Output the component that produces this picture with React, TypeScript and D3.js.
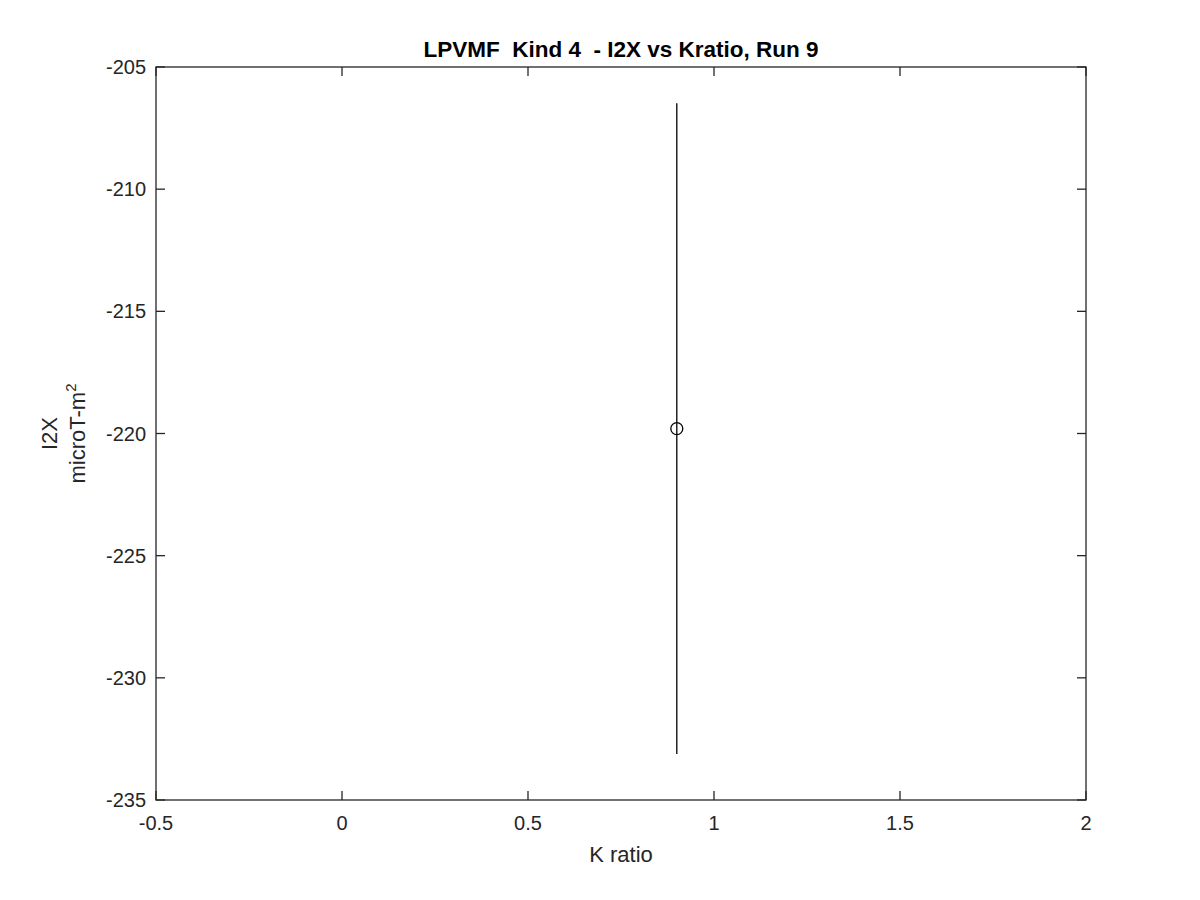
import React from "react";
import * as d3 from "d3";

const xValues = [0.9];
const yValues = [-219.8];
const errValues = [13.32];
const xTicks = [-0.5, 0, 0.5, 1, 1.5, 2];
const yTicks = [-235, -230, -225, -220, -215, -210, -205];
const title = "LPVMF  Kind 4  - I2X vs Kratio, Run 9";

export default function App() {
  const W = 1200, H = 900;
  const left = 156, right = 1086, top = 67, bottom = 800;
  const x = d3.scaleLinear().domain([-0.5, 2]).range([left, right]);
  const y = d3.scaleLinear().domain([-235, -205]).range([bottom, top]);
  const axisColor = "#262626";
  const font = "'Liberation Sans', Arial, sans-serif";
  const tl = 9;
  return (
    <svg width={W} height={H} style={{ position: "absolute", left: 0, top: 0, background: "#fff" }} fontFamily={font}>
      <rect x={0} y={0} width={W} height={H} fill="#fff" />
      {xValues.map((xv, i) => (
        <g key={i}>
          <line x1={x(xv)} x2={x(xv)} y1={y(yValues[i] + errValues[i])} y2={y(yValues[i] - errValues[i])} stroke="#000" strokeWidth={1.3} />
          <circle cx={x(xv)} cy={y(yValues[i])} r={6} fill="none" stroke="#000" strokeWidth={1.3} />
        </g>
      ))}
      <rect x={left} y={top} width={right - left} height={bottom - top} fill="none" stroke={axisColor} strokeWidth={1.3} />
      {xTicks.map((t) => (
        <g key={"x" + t}>
          <line x1={x(t)} x2={x(t)} y1={bottom} y2={bottom - tl} stroke={axisColor} strokeWidth={1.3} />
          <line x1={x(t)} x2={x(t)} y1={top} y2={top + tl} stroke={axisColor} strokeWidth={1.3} />
          <text x={x(t)} y={bottom + 30} textAnchor="middle" fontSize={20} fill={axisColor}>{String(t)}</text>
        </g>
      ))}
      {yTicks.map((t) => (
        <g key={"y" + t}>
          <line x1={left} x2={left + tl} y1={y(t)} y2={y(t)} stroke={axisColor} strokeWidth={1.3} />
          <line x1={right} x2={right - tl} y1={y(t)} y2={y(t)} stroke={axisColor} strokeWidth={1.3} />
          <text x={left - 10} y={y(t)} dy="0.35em" textAnchor="end" fontSize={20} fill={axisColor}>{String(t)}</text>
        </g>
      ))}
      <text x={(left + right) / 2} y={862} textAnchor="middle" fontSize={22} fill={axisColor}>K ratio</text>
      <g transform={`translate(57,${(top + bottom) / 2}) rotate(-90)`}>
        <text x={0} y={0} textAnchor="middle" fontSize={22} fill={axisColor}>I2X</text>
        <text x={0} y={28} textAnchor="middle" fontSize={22} fill={axisColor}>
          microT-m<tspan dy={-9} fontSize={15}>2</tspan>
        </text>
      </g>
      <text x={(left + right) / 2} y={57} textAnchor="middle" fontSize={22.5} fontWeight="bold" fill="#000" style={{ whiteSpace: "pre" }} xmlSpace="preserve">{title}</text>
    </svg>
  );
}
